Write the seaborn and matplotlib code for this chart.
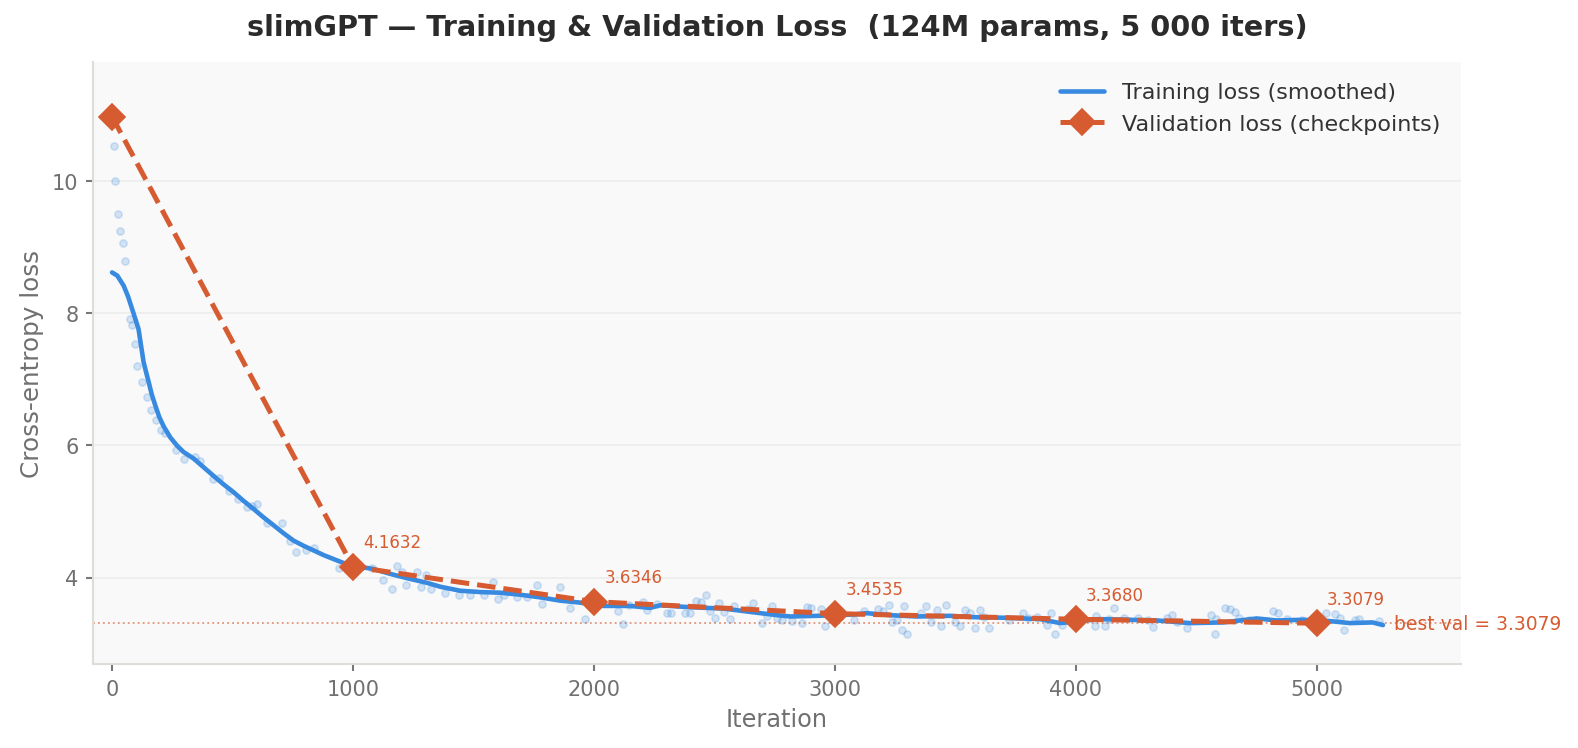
import matplotlib
matplotlib.use("Agg")
import matplotlib.pyplot as plt
import seaborn as sns

# ---------------- data ----------------
raw_iter = [0, 7, 11, 23, 32, 44, 52, 73, 81, 94, 103, 123, 144, 163, 181, 202, 221,
            264, 300, 343, 364, 421, 444, 484, 523, 561, 580, 603, 643, 704, 739, 763,
            803, 840, 940, 1081, 1123, 1160, 1183, 1204, 1222, 1265, 1281, 1303, 1322,
            1380, 1441, 1487, 1543, 1583, 1600, 1625, 1682, 1722, 1762, 1783, 1860,
            1901, 1961, 2102, 2122, 2147, 2202, 2221, 2260, 2302, 2321, 2379, 2400,
            2422, 2443, 2464, 2480, 2501, 2521, 2542, 2563, 2582, 2641, 2661, 2698,
            2719, 2741, 2761, 2780, 2821, 2862, 2884, 2902, 2941, 2960, 3080, 3122,
            3181, 3202, 3223, 3239, 3260, 3277, 3287, 3300, 3359, 3380, 3401, 3422,
            3442, 3460, 3500, 3521, 3542, 3560, 3581, 3601, 3620, 3640, 3721, 3781,
            3802, 3841, 3880, 3899, 3912, 3941, 4081, 4085, 4120, 4139, 4160, 4201,
            4260, 4301, 4322, 4380, 4401, 4421, 4460, 4561, 4580, 4582, 4618, 4640,
            4660, 4679, 4720, 4819, 4838, 4878, 4939, 5038, 5076, 5097, 5115, 5159,
            5177, 5260]
raw_loss = [10.96, 10.53, 10.00, 9.50, 9.24, 9.06, 8.79, 7.92, 7.83, 7.54, 7.20, 6.96,
            6.73, 6.54, 6.38, 6.24, 6.19, 5.93, 5.79, 5.83, 5.77, 5.49, 5.51, 5.31,
            5.19, 5.07, 5.09, 5.11, 4.83, 4.83, 4.56, 4.39, 4.42, 4.45, 4.14, 4.15,
            3.96, 3.83, 4.17, 4.09, 3.88, 4.09, 3.85, 4.04, 3.83, 3.76, 3.74, 3.74,
            3.73, 3.93, 3.67, 3.74, 3.71, 3.70, 3.88, 3.60, 3.85, 3.54, 3.37, 3.50,
            3.29, 3.59, 3.63, 3.51, 3.60, 3.47, 3.46, 3.47, 3.46, 3.65, 3.63, 3.73,
            3.49, 3.39, 3.61, 3.48, 3.37, 3.57, 3.52, 3.62, 3.31, 3.41, 3.57, 3.39,
            3.36, 3.34, 3.31, 3.56, 3.54, 3.53, 3.27, 3.36, 3.50, 3.52, 3.49, 3.59,
            3.33, 3.35, 3.20, 3.57, 3.14, 3.46, 3.57, 3.32, 3.51, 3.26, 3.59, 3.33,
            3.26, 3.51, 3.47, 3.24, 3.51, 3.40, 3.24, 3.35, 3.46, 3.39, 3.40, 3.28,
            3.46, 3.14, 3.28, 3.26, 3.41, 3.26, 3.37, 3.54, 3.38, 3.39, 3.35, 3.25,
            3.39, 3.44, 3.33, 3.23, 3.44, 3.14, 3.37, 3.54, 3.53, 3.48, 3.39, 3.35,
            3.50, 3.46, 3.37, 3.35, 3.46, 3.45, 3.39, 3.20, 3.35, 3.37, 3.34]

smooth_iter = [0, 22, 48, 66, 83, 98, 110, 120, 131, 142, 152, 165, 180, 196, 214, 242,
               269, 297, 339, 380, 421, 463, 505, 546, 587, 629, 671, 712, 753, 795,
               837, 878, 919, 975, 1030, 1085, 1150, 1224, 1307, 1363, 1445, 1529,
               1611, 1694, 1777, 1860, 1943, 2040, 2151, 2233, 2275, 2400, 2538, 2648,
               2760, 2815, 2925, 3077, 3133, 3230, 3340, 3478, 3576, 3714, 3852, 3935,
               4100, 4226, 4336, 4474, 4612, 4751, 4834, 4944, 5056, 5138, 5232, 5275]
smooth_loss = [8.62, 8.57, 8.42, 8.26, 8.07, 7.90, 7.76, 7.52, 7.26, 7.10, 6.96, 6.77,
               6.60, 6.43, 6.29, 6.12, 6.00, 5.90, 5.80, 5.67, 5.54, 5.41, 5.29, 5.16,
               5.04, 4.91, 4.79, 4.67, 4.56, 4.48, 4.41, 4.34, 4.28, 4.20, 4.16, 4.13,
               4.06, 3.99, 3.92, 3.86, 3.80, 3.78, 3.77, 3.74, 3.70, 3.65, 3.62, 3.57,
               3.57, 3.54, 3.58, 3.55, 3.53, 3.48, 3.43, 3.41, 3.42, 3.44, 3.46, 3.43,
               3.41, 3.42, 3.40, 3.39, 3.37, 3.31, 3.37, 3.36, 3.35, 3.31, 3.32, 3.38,
               3.35, 3.36, 3.34, 3.31, 3.32, 3.28]

val_iter = [0, 1000, 2000, 3000, 4000, 5000]
val_loss = [10.98, 4.1632, 3.6346, 3.4535, 3.3680, 3.3079]
best_val = 3.3079

x_ticks = [0, 1000, 2000, 3000, 4000, 5000]
y_ticks = [4, 6, 8, 10]

title = "slimGPT \u2014 Training & Validation Loss  (124M params, 5 000 iters)"

BLUE = "#378ADF"
ORANGE = "#D65B30"

# ---------------- figure ----------------
sns.set_theme(style="ticks")
plt.rcParams["font.family"] = ["DejaVu Sans"]

fig = plt.figure(figsize=(10.52, 4.993), dpi=150)
ax = fig.add_axes([0.0591, 0.1121, 0.8666, 0.8033])
ax.set_facecolor("#f9f9f9")
ax.grid(axis="y", color="#ececec", lw=0.8, zorder=0)
ax.set_axisbelow(True)

sns.scatterplot(x=raw_iter, y=raw_loss, ax=ax, s=12, color=BLUE, alpha=0.2,
                edgecolor=BLUE, linewidth=0.8, zorder=2, legend=False)
sns.lineplot(x=smooth_iter, y=smooth_loss, ax=ax, color=BLUE, lw=2.2,
             label="Training loss (smoothed)", zorder=3)
sns.lineplot(x=val_iter, y=val_loss, ax=ax, color=ORANGE, lw=2.4, ls="--",
             marker="D", markersize=9, markeredgecolor=ORANGE, markeredgewidth=0.8,
             label="Validation loss (checkpoints)", zorder=4)

ax.axhline(best_val, color=ORANGE, alpha=0.6, ls=":", lw=0.9, zorder=1)
ax.text(5320, best_val, f"best val = {best_val:.4f}", color=ORANGE, fontsize=9,
        ha="left", va="center", clip_on=False)

for xi, vi in zip(val_iter[1:], val_loss[1:]):
    ax.annotate(f"{vi:.4f}", (xi, vi), xytext=(5, 11.8), textcoords="offset points",
                fontsize=8, color=ORANGE, ha="left", va="center")

ax.set_xlim(-78, 5598)
ax.set_ylim(2.69, 11.80)
ax.set_xticks(x_ticks)
ax.set_yticks(y_ticks)

for side in ["top", "right"]:
    ax.spines[side].set_visible(False)
for side in ["left", "bottom"]:
    ax.spines[side].set_color("#deded8")
    ax.spines[side].set_linewidth(1.0)

ax.tick_params(axis="both", colors="#777777", labelcolor="#707070", labelsize=10,
               length=3.5, width=1.0)
ax.set_xlabel("Iteration", fontsize=11.5, color="#707070")
ax.set_ylabel("Cross-entropy loss", fontsize=11.8, color="#707070")

leg = ax.legend(loc="upper right", frameon=False, fontsize=10.7)
for t in leg.get_texts():
    t.set_color("#333333")

fig.text(0.4924, 1 - 28.5 / 749, title, ha="center", va="center", fontsize=13.8,
         fontweight="bold", color="#2b2b2b")

fig.savefig("out.png", dpi=150)
